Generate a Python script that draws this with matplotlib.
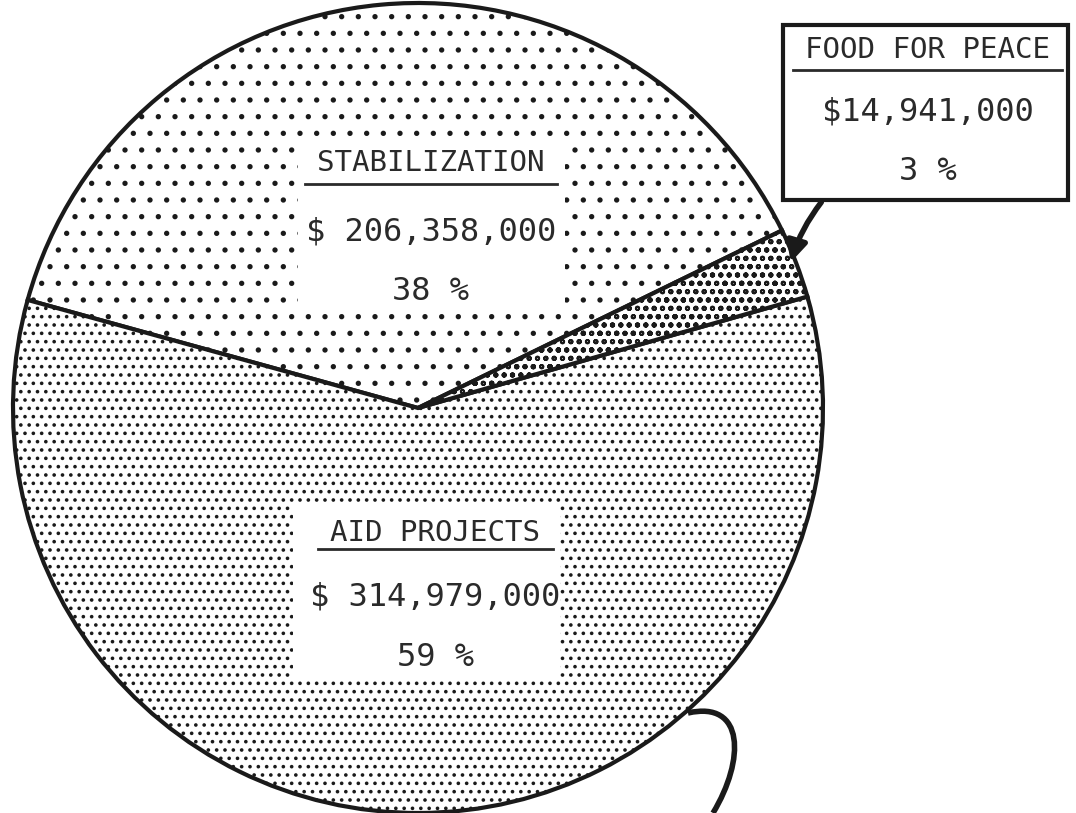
import matplotlib
matplotlib.use('Agg')
import matplotlib.pyplot as plt
from matplotlib.patches import Rectangle, FancyArrowPatch, PathPatch
from matplotlib.path import Path

# data (thousands of dollars)
labels = ['STABILIZATION', 'AID PROJECTS', 'FOOD FOR PEACE']
values = [206358, 314979, 14941]
amounts = ['$ 206,358,000', '$ 314,979,000', '$14,941,000']
pcts = ['38 %', '59 %', '3 %']
hatches = ['.', '..', 'oo.']

plt.rcParams['hatch.linewidth'] = 1.4
plt.rcParams['font.family'] = 'DejaVu Sans Mono'

W, H = 1076, 813
fig = plt.figure(figsize=(W / 100, H / 100), dpi=100)
ax = fig.add_axes([0, 0, 1, 1])

def Y(y):
    return H - y

wedges, _ = ax.pie(values, center=(418, Y(408)), radius=405, startangle=26,
                   counterclock=True, hatch=hatches,
                   wedgeprops=dict(facecolor='white', edgecolor='#1a1a1a', linewidth=3))
ax.set_xlim(0, W)
ax.set_ylim(0, H)
ax.axis('off')

# label boxes: (left, top, right, bottom) in pixels, border flag
boxes = [(298, 143, 565, 312, False), (293, 505, 560, 680, False), (783, 25, 1068, 200, True)]
# line positions inside each box: title, underline, amount, pct
rows = [(163, 184, 232, 292), (533, 549, 597, 657), (50, 70, 112, 172)]
ul = [(305, 557), (318, 553), (793, 1062)]

for i in range(3):
    l, t, r, b, border = boxes[i]
    ax.add_patch(Rectangle((l, Y(b)), r - l, b - t, facecolor='white',
                           edgecolor='#1a1a1a' if border else 'none',
                           linewidth=3, zorder=5))
    cx = (ul[i][0] + ul[i][1]) / 2
    ty, uy, ay, py = rows[i]
    ax.text(cx, Y(ty), labels[i], ha='center', va='center', fontsize=21,
            color='#2a2a2a', zorder=6)
    ax.plot(ul[i], [Y(uy), Y(uy)], color='#2a2a2a', lw=2, zorder=6)
    ax.text(cx, Y(ay), amounts[i], ha='center', va='center', fontsize=23,
            color='#2a2a2a', zorder=6)
    ax.text(cx, Y(py), pcts[i], ha='center', va='center', fontsize=23,
            color='#2a2a2a', zorder=6)

# arrow from the food for peace box to its slice
ax.add_patch(FancyArrowPatch((823, Y(200)), (790, Y(265)), arrowstyle='-|>,head_length=12,head_width=6',
                             connectionstyle='arc3,rad=0.1', color='#1a1a1a',
                             lw=4, mutation_scale=1, zorder=7))

# stray curve at the bottom right
curve = Path([(688, Y(713)), (745, Y(700)), (745, Y(760)), (713, Y(813))],
             [Path.MOVETO, Path.CURVE4, Path.CURVE4, Path.CURVE4])
ax.add_patch(PathPatch(curve, facecolor='none', edgecolor='#1a1a1a', lw=4, zorder=7))

fig.savefig('out.png', dpi=100, facecolor='white')
